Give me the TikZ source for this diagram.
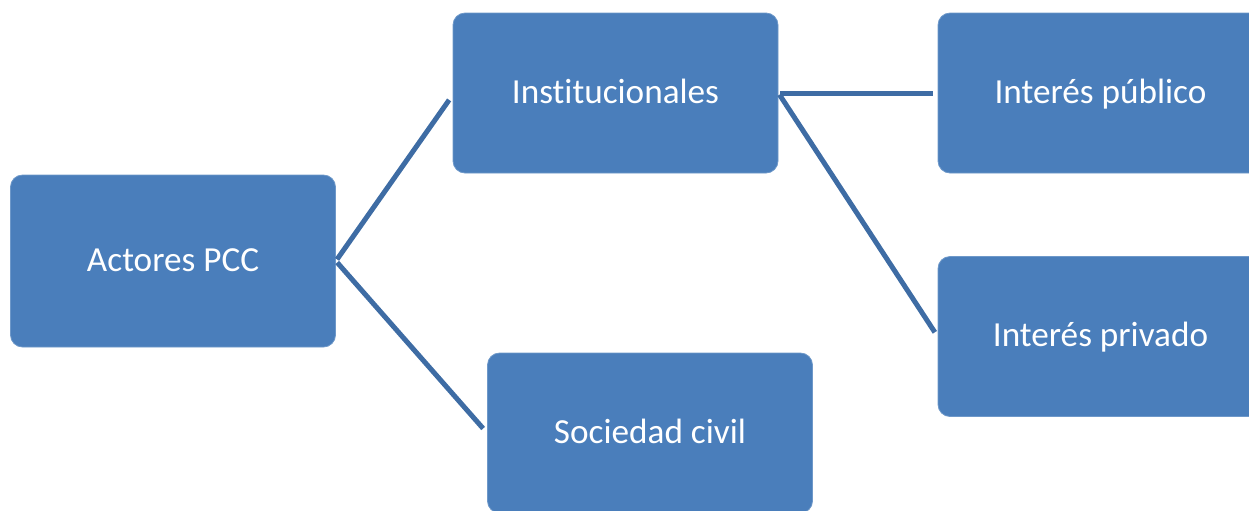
\documentclass[tikz,border=0pt]{standalone}
\usepackage{fontspec}
\setmainfont{Carlito}[Ligatures=NoCommon]
\definecolor{boxblue}{RGB}{74,126,187}
\definecolor{lineblue}{RGB}{62,108,164}
\tikzset{
	actorbox/.style={rectangle,rounded corners=6pt,fill=boxblue,draw=boxblue!80!white,line width=0.4pt,
		text=white,font=\fontsize{17.6}{22}\selectfont,text height=13pt,text depth=3pt,
		minimum width=162.5pt,minimum height=80pt,inner sep=0pt},
	link/.style={draw=lineblue,line width=2.5pt}
}
\begin{document}
\begin{tikzpicture}[x=0.5pt,y=-0.5pt]
				\useasboundingbox (0,0) rectangle (1249,510);
				\clip (0,0) rectangle (1249,510);
				\node[actorbox,minimum height=86pt] (act) at (173,261) {Actores PCC};
				\node[actorbox] (inst) at (615.5,93) {Institucionales};
				\node[actorbox] (soc) at (650,433) {Sociedad civil};
				\node[actorbox] (pub) at (1100.5,93) {Interés público};
				\node[actorbox] (priv) at (1100.5,336.5) {Interés privado};
				\draw[link,shorten <=1pt,shorten >=3pt] (act.east) -- ([yshift=-1pt]inst.west);
				\draw[link,shorten <=1pt,shorten >=3pt] (act.east) -- (soc.west);
				\draw[link,shorten <=1pt,shorten >=2.5pt] (inst.east) -- (pub.west);
				\draw[link,shorten <=1pt,shorten >=2.5pt] (inst.east) -- (priv.west);
\end{tikzpicture}
\end{document}
